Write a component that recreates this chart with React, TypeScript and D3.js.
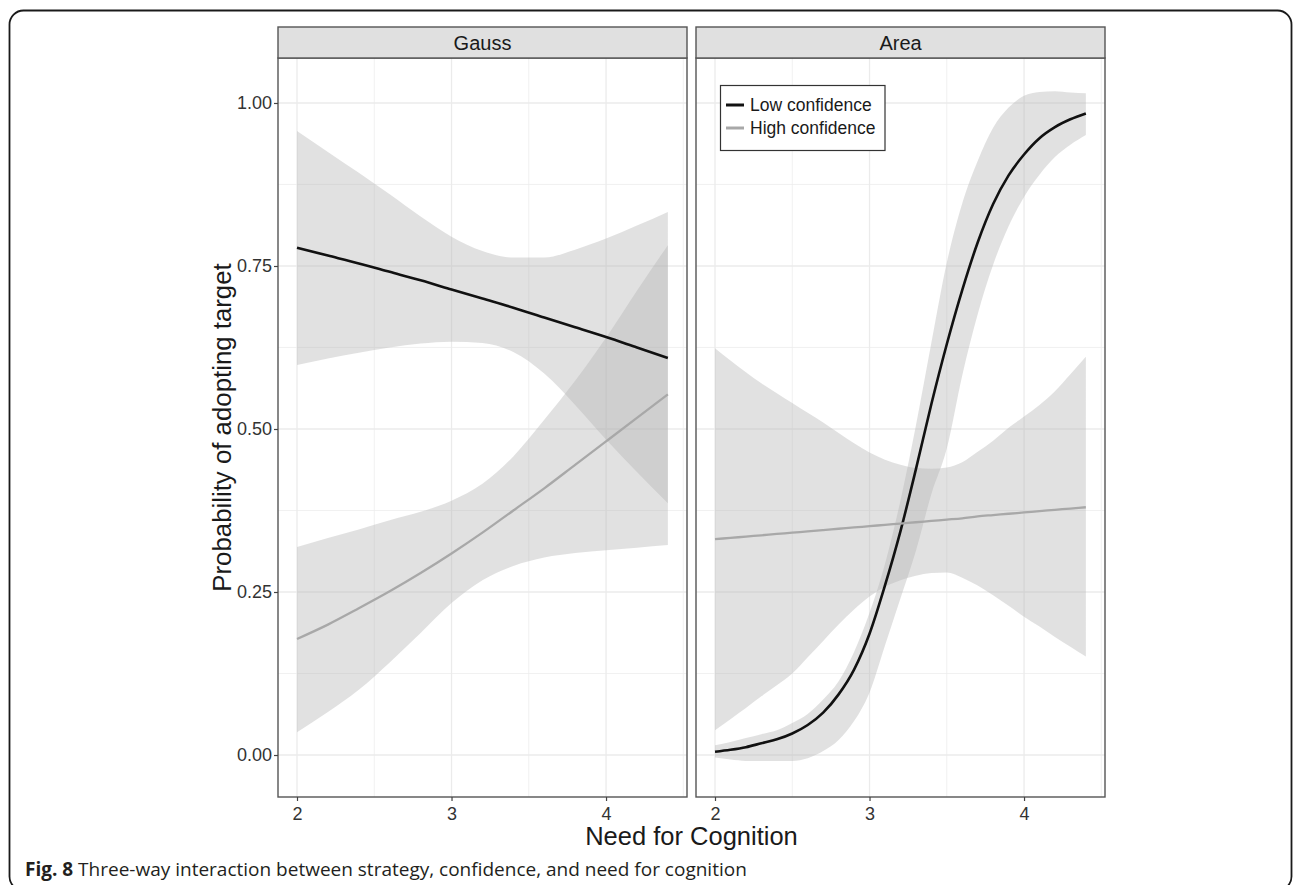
import React, { useEffect, useRef } from 'react';
import * as d3 from 'd3';

// x grid of the fitted curves (Gauss panel read every 0.2, Area panel every 0.1)
const GAUSS_X = [2.0, 2.2, 2.4, 2.6, 2.8, 3.0, 3.2, 3.4, 3.6, 3.8, 4.0, 4.2, 4.4];
const AREA_X = [2.0, 2.1, 2.2, 2.3, 2.4, 2.5, 2.6, 2.7, 2.8, 2.9, 3.0, 3.1, 3.2, 3.3, 3.4, 3.5, 3.6, 3.7, 3.8, 3.9, 4.0, 4.1, 4.2, 4.3, 4.4];

const gaussLow = [0.778, 0.766, 0.754, 0.741, 0.728, 0.714, 0.700, 0.686, 0.671, 0.656, 0.641, 0.625, 0.609];
const gaussLowUpper = [0.957, 0.925, 0.893, 0.860, 0.826, 0.795, 0.773, 0.763, 0.763, 0.775, 0.792, 0.812, 0.833];
const gaussLowLower = [0.598, 0.608, 0.617, 0.625, 0.631, 0.634, 0.632, 0.618, 0.585, 0.537, 0.484, 0.434, 0.386];
const gaussHigh = [0.178, 0.200, 0.225, 0.251, 0.279, 0.309, 0.341, 0.375, 0.409, 0.445, 0.481, 0.517, 0.553];
const gaussHighUpper = [0.319, 0.333, 0.346, 0.360, 0.373, 0.390, 0.416, 0.458, 0.514, 0.574, 0.640, 0.712, 0.782];
const gaussHighLower = [0.035, 0.066, 0.100, 0.142, 0.187, 0.233, 0.268, 0.290, 0.303, 0.310, 0.314, 0.318, 0.322];

const areaLow = [0.005, 0.008, 0.012, 0.018, 0.024, 0.033, 0.046, 0.065, 0.093, 0.131, 0.186, 0.260, 0.343, 0.438, 0.538, 0.630, 0.713, 0.786, 0.845, 0.889, 0.921, 0.946, 0.963, 0.975, 0.984];
const areaLowUpper = [0.015, 0.020, 0.026, 0.032, 0.038, 0.049, 0.063, 0.085, 0.113, 0.158, 0.218, 0.293, 0.390, 0.505, 0.632, 0.755, 0.846, 0.911, 0.962, 0.993, 1.011, 1.017, 1.018, 1.016, 1.015];
const areaLowLower = [-0.004, -0.007, -0.009, -0.009, -0.009, -0.009, -0.005, 0.006, 0.023, 0.052, 0.096, 0.168, 0.240, 0.313, 0.400, 0.470, 0.582, 0.676, 0.752, 0.811, 0.856, 0.890, 0.917, 0.936, 0.951];
const areaHigh = [0.331, 0.333, 0.335, 0.337, 0.339, 0.341, 0.343, 0.345, 0.347, 0.349, 0.351, 0.353, 0.355, 0.357, 0.359, 0.361, 0.363, 0.366, 0.368, 0.370, 0.372, 0.374, 0.376, 0.378, 0.380];
const areaHighUpper = [0.624, 0.605, 0.587, 0.570, 0.555, 0.540, 0.525, 0.510, 0.494, 0.478, 0.464, 0.453, 0.445, 0.440, 0.439, 0.441, 0.449, 0.465, 0.482, 0.502, 0.519, 0.537, 0.558, 0.584, 0.611];
const areaHighLower = [0.038, 0.055, 0.072, 0.090, 0.107, 0.125, 0.150, 0.175, 0.200, 0.223, 0.243, 0.258, 0.268, 0.275, 0.279, 0.280, 0.272, 0.260, 0.245, 0.229, 0.212, 0.197, 0.181, 0.166, 0.151];

const PANELS = ['Gauss', 'Area'];
const LEGEND = ['Low confidence', 'High confidence'];
const X_TICKS = [2, 3, 4];
const X_MINOR = [2.5, 3.5, 4.5];
const Y_TICKS = [0, 0.25, 0.5, 0.75, 1];
const Y_MINOR = [0.125, 0.375, 0.625, 0.875];

const LOW_COLOR = '#111111';
const HIGH_COLOR = '#a8a8a8';

type Pt = { x: number; y: number; lo: number; hi: number };

const build = (xs: number[], fit: number[], lo: number[], hi: number[]): Pt[] =>
  xs.map((x, i) => ({ x, y: fit[i], lo: lo[i], hi: hi[i] }));

const App = () => {
  const svgRef = useRef<SVGSVGElement>(null);

  useEffect(() => {
    document.body.style.margin = '0';
    const svg = d3.select(svgRef.current);
    svg.selectAll('*').remove();

    const font = '"Liberation Sans", Arial, Helvetica, sans-serif';
    const panelW = 409;
    const panelLefts = [278, 696];
    const top = 58;
    const bottom = 797;
    const stripTop = 27;

    const series = [
      [build(GAUSS_X, gaussLow, gaussLowLower, gaussLowUpper), build(GAUSS_X, gaussHigh, gaussHighLower, gaussHighUpper)],
      [build(AREA_X, areaLow, areaLowLower, areaLowUpper), build(AREA_X, areaHigh, areaHighLower, areaHighUpper)],
    ];

    const y = d3.scaleLinear().domain([-0.0644, 1.069]).range([bottom, top]);

    // outer figure frame
    svg.append('rect')
      .attr('x', 9.5).attr('y', 10.5)
      .attr('width', 1282).attr('height', 880)
      .attr('rx', 14)
      .attr('fill', 'none')
      .attr('stroke', '#1a1a1a')
      .attr('stroke-width', 1.8);

    const defs = svg.append('defs');

    PANELS.forEach((name, p) => {
      const left = panelLefts[p];
      const x = d3.scaleLinear().domain([1.877, 4.524]).range([left, left + panelW]);
      const g = svg.append('g');

      defs.append('clipPath').attr('id', `clip${p}`)
        .append('rect').attr('x', left).attr('y', top).attr('width', panelW).attr('height', bottom - top);

      g.append('rect').attr('x', left).attr('y', top).attr('width', panelW).attr('height', bottom - top).attr('fill', '#fff');

      // grid
      const grid = g.append('g').attr('clip-path', `url(#clip${p})`);
      Y_MINOR.forEach(v => grid.append('line').attr('x1', left).attr('x2', left + panelW).attr('y1', y(v)).attr('y2', y(v)).attr('stroke', '#ededed').attr('stroke-width', 0.8));
      X_MINOR.forEach(v => grid.append('line').attr('y1', top).attr('y2', bottom).attr('x1', x(v)).attr('x2', x(v)).attr('stroke', '#ededed').attr('stroke-width', 0.8));
      Y_TICKS.forEach(v => grid.append('line').attr('x1', left).attr('x2', left + panelW).attr('y1', y(v)).attr('y2', y(v)).attr('stroke', '#ebebeb').attr('stroke-width', 1.3));
      X_TICKS.forEach(v => grid.append('line').attr('y1', top).attr('y2', bottom).attr('x1', x(v)).attr('x2', x(v)).attr('stroke', '#ebebeb').attr('stroke-width', 1.3));

      const area = d3.area<Pt>().x(d => x(d.x)).y0(d => y(d.lo)).y1(d => y(d.hi)).curve(d3.curveMonotoneX);
      const line = d3.line<Pt>().x(d => x(d.x)).y(d => y(d.y)).curve(d3.curveMonotoneX);

      const plot = g.append('g').attr('clip-path', `url(#clip${p})`);
      series[p].forEach(s => {
        plot.append('path').attr('d', area(s)).attr('fill', '#b3b5b5').attr('fill-opacity', 0.4);
      });
      series[p].forEach((s, i) => {
        plot.append('path').attr('d', line(s))
          .attr('fill', 'none')
          .attr('stroke', i === 0 ? LOW_COLOR : HIGH_COLOR)
          .attr('stroke-width', i === 0 ? 2.6 : 2.3);
      });

      // panel border + strip
      g.append('rect').attr('x', left).attr('y', top).attr('width', panelW).attr('height', bottom - top)
        .attr('fill', 'none').attr('stroke', '#555').attr('stroke-width', 1.4);
      g.append('rect').attr('x', left).attr('y', stripTop).attr('width', panelW).attr('height', top - stripTop)
        .attr('fill', '#e0e0e0').attr('stroke', '#555').attr('stroke-width', 1.4);
      g.append('text').attr('x', left + panelW / 2).attr('y', (stripTop + top) / 2)
        .attr('text-anchor', 'middle').attr('dominant-baseline', 'central')
        .attr('font-family', font).attr('font-size', 20).attr('fill', '#1a1a1a')
        .text(name);

      // x axis
      const xa = g.append('g').attr('transform', `translate(0,${bottom})`)
        .call(d3.axisBottom(x).tickValues(X_TICKS).tickSize(4).tickPadding(6).tickFormat(d3.format('d')));
      xa.select('.domain').remove();
      xa.selectAll('line').attr('stroke', '#444').attr('stroke-width', 1.2);
      xa.selectAll('text').attr('font-family', font).attr('font-size', 18).attr('fill', '#333');

      if (p === 0) {
        const ya = g.append('g').attr('transform', `translate(${left},0)`)
          .call(d3.axisLeft(y).tickValues(Y_TICKS).tickSize(4).tickPadding(2).tickFormat(d3.format('.2f')));
        ya.select('.domain').remove();
        ya.selectAll('line').attr('stroke', '#444').attr('stroke-width', 1.2);
        ya.selectAll('text').attr('font-family', font).attr('font-size', 18).attr('fill', '#333');
      }

      if (p === 1) {
        const lg = g.append('g');
        lg.append('rect').attr('x', left + 24.5).attr('y', 85.5).attr('width', 164.5).attr('height', 65)
          .attr('fill', '#fff').attr('stroke', '#333').attr('stroke-width', 1.2);
        LEGEND.forEach((label, i) => {
          const ly = 105 + i * 23;
          lg.append('line').attr('x1', left + 30).attr('x2', left + 48).attr('y1', ly).attr('y2', ly)
            .attr('stroke', i === 0 ? LOW_COLOR : HIGH_COLOR).attr('stroke-width', 3);
          lg.append('text').attr('x', left + 54).attr('y', ly).attr('dominant-baseline', 'central')
            .attr('font-family', font).attr('font-size', 17.5).attr('fill', '#1a1a1a').text(label);
        });
      }
    });

    // axis titles
    svg.append('text')
      .attr('x', (panelLefts[0] + panelLefts[1] + panelW) / 2).attr('y', 845)
      .attr('text-anchor', 'middle').attr('font-family', font).attr('font-size', 25.5).attr('fill', '#1a1a1a')
      .text('Need for Cognition');
    svg.append('text')
      .attr('transform', `translate(231,${(top + bottom) / 2}) rotate(-90)`)
      .attr('text-anchor', 'middle').attr('font-family', font).attr('font-size', 25.8).attr('fill', '#1a1a1a')
      .text('Probability of adopting target');

    // caption
    const cap = svg.append('text').attr('x', 25).attr('y', 876)
      .attr('font-family', '"Open Sans", sans-serif').attr('font-size', 19).attr('fill', '#231f20');
    cap.append('tspan').attr('font-weight', 'bold').text('Fig. 8');
    cap.append('tspan').text(' Three-way interaction between strategy, confidence, and need for cognition');
  }, []);

  return <svg ref={svgRef} width={1293} height={885} style={{ display: 'block' }}></svg>;
};

export default App;
